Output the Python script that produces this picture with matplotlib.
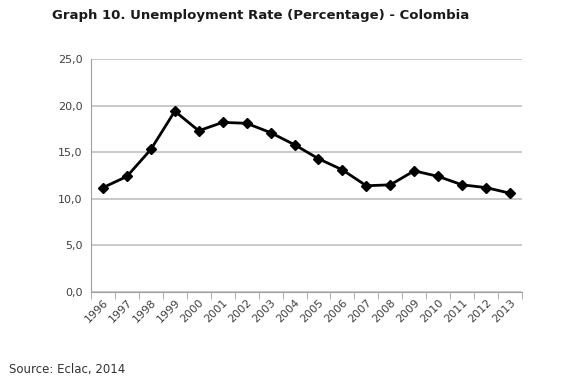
import matplotlib
matplotlib.use("Agg")
import matplotlib.pyplot as plt
import numpy as np

years = [str(y) for y in range(1996, 2014)]
rates = [11.2, 12.4, 15.3, 19.4, 17.3, 18.2, 18.1, 17.1, 15.8, 14.3, 13.1, 11.4, 11.5, 13.0, 12.4, 11.5, 11.2, 10.6]
yticks = [0, 5, 10, 15, 20, 25]
title = "Graph 10. Unemployment Rate (Percentage) - Colombia"
source = "Source: Eclac, 2014"

fig = plt.figure(figsize=(5.8, 3.82), dpi=100)
ax = fig.add_axes([91/580, 1-292/382, (522-91)/580, (292-59)/382])

x = np.arange(len(years))
ax.plot(x, rates, color="black", lw=2.0, marker="D", ms=5.5, zorder=3)

ax.set_xlim(-0.5, len(years) - 0.5)
ax.set_ylim(0, 25)
ax.set_yticks(yticks)
ax.set_yticklabels([f"{v:.1f}".replace(".", ",") for v in yticks], fontsize=8, color="#404040")
ax.yaxis.grid(True, color="#c0c0c0", lw=1.2)
ax.set_axisbelow(True)
ax.tick_params(axis="y", length=0, pad=6)

ax.set_xticks(x)
ax.set_xticklabels(years, rotation=45, ha="right", rotation_mode="anchor", fontsize=8, color="#404040")
ax.tick_params(axis="x", which="major", length=0, pad=4)
ax.set_xticks(np.arange(-0.5, len(years)), minor=True)
ax.tick_params(axis="x", which="minor", length=5, color="#a0a0a0", direction="out")

for s in ["top", "right"]:
    ax.spines[s].set_visible(False)
ax.spines["left"].set_color("#a0a0a0")
ax.spines["bottom"].set_color("#a0a0a0")

fig.text(261/580, 1-16/382, title, ha="center", va="center", fontsize=9.5, fontweight="bold", color="#1a1a1a")
fig.text(9/580, 1-370/382, source, ha="left", va="center", fontsize=8.5, color="#333333")

fig.savefig("out.png", dpi=100)
